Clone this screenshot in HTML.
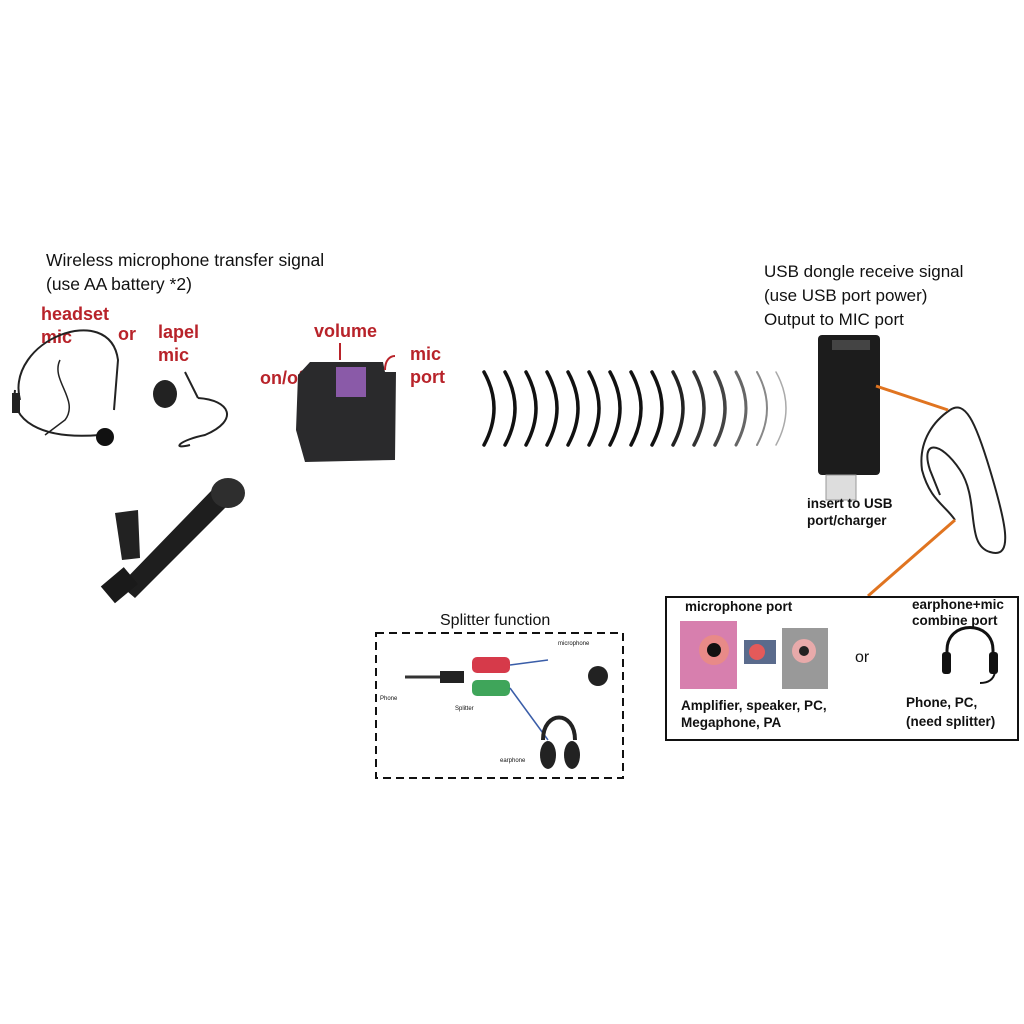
<!DOCTYPE html>
<html><head><meta charset="utf-8"><style>
body{margin:0;background:#fff;width:1024px;height:1024px;overflow:hidden}
svg{display:block}
.t{font-family:"Liberation Sans",sans-serif;fill:#111}
.r{font-family:"Liberation Sans",sans-serif;font-weight:bold;fill:#b8232a;font-size:18px}
.b{font-family:"Liberation Sans",sans-serif;font-weight:bold;fill:#111;font-size:13.5px}
</style></head><body>
<svg width="1024" height="1024" viewBox="0 0 1024 1024">
<text class="t" x="46" y="266" font-size="17.5">Wireless microphone transfer signal</text>
<text class="t" x="46" y="290" font-size="17.5">(use AA battery *2)</text>
<text class="t" x="764" y="277" font-size="17">USB dongle receive signal</text>
<text class="t" x="764" y="301" font-size="17">(use USB port power)</text>
<text class="t" x="764" y="325" font-size="17">Output to MIC port</text>

<text class="r" x="41" y="320">headset</text>
<text class="r" x="41" y="343">mic</text>
<text class="r" x="118" y="340">or</text>
<text class="r" x="158" y="338">lapel</text>
<text class="r" x="158" y="361">mic</text>
<text class="r" x="314" y="337">volume</text>
<text class="r" x="260" y="384">on/off</text>
<text class="r" x="410" y="360">mic</text>
<text class="r" x="410" y="383">port</text>

<!-- headset -->
<path d="M20,400 C5,340 110,300 118,360 L114,410" fill="none" stroke="#222" stroke-width="2"/>
<path d="M15,390 C10,420 40,440 100,435" fill="none" stroke="#222" stroke-width="2"/>
<rect x="12" y="393" width="8" height="20" fill="#222"/>
<circle cx="105" cy="437" r="9" fill="#111"/>
<path d="M60,360 C50,380 80,400 65,420 L45,435" fill="none" stroke="#222" stroke-width="1.5"/>
<!-- lapel -->
<ellipse cx="165" cy="394" rx="12" ry="14" fill="#222"/>
<path d="M185,372 L198,398 M198,398 C230,400 240,420 205,435 C180,440 170,450 190,445" fill="none" stroke="#222" stroke-width="2"/>
<!-- transmitter -->
<path d="M310,362 L383,362 L385,372 L396,372 L395,460 L305,462 L296,430 L298,375 Z" fill="#2a2a2c"/>
<rect x="336" y="367" width="30" height="30" fill="#8a5aa8"/>
<line x1="340" y1="343" x2="340" y2="360" stroke="#b8232a" stroke-width="2"/>
<path d="M385,370 C385,360 390,356 395,356" fill="none" stroke="#b8232a" stroke-width="2"/>
<!-- handheld mic -->
<path d="M120,585 L135,598 L228,505 L212,490 Z" fill="#1e1e1e"/>
<ellipse cx="228" cy="493" rx="17" ry="15" fill="#2e2e2e"/>
<path d="M115,513 L138,510 L140,558 L122,560 Z" fill="#222"/>
<rect x="105" y="574" width="30" height="22" fill="#1a1a1a" transform="rotate(-40 120 586)"/>

<!-- arcs -->
<g fill="none" stroke-width="3.5" stroke-linecap="round">
<path d="M484,372 Q504,408 484,445" stroke="#111"/>
<path d="M505,372 Q525,408 505,445" stroke="#111"/>
<path d="M526,372 Q546,408 526,445" stroke="#111"/>
<path d="M547,372 Q567,408 547,445" stroke="#111"/>
<path d="M568,372 Q588,408 568,445" stroke="#111"/>
<path d="M589,372 Q609,408 589,445" stroke="#111"/>
<path d="M610,372 Q630,408 610,445" stroke="#111"/>
<path d="M631,372 Q651,408 631,445" stroke="#111"/>
<path d="M652,372 Q672,408 652,445" stroke="#111"/>
<path d="M673,372 Q693,408 673,445" stroke="#222"/>
<path d="M694,372 Q714,408 694,445" stroke="#333"/>
<path d="M715,372 Q735,408 715,445" stroke="#444"/>
<path d="M736,372 Q756,408 736,445" stroke="#666" stroke-width="3"/>
<path d="M757,372 Q777,408 757,445" stroke="#888" stroke-width="2"/>
<path d="M776,372 Q796,408 776,445" stroke="#aaa" stroke-width="1.5"/>
</g>

<!-- usb dongle -->
<rect x="818" y="335" width="62" height="140" rx="4" fill="#1c1c1c"/>
<rect x="832" y="340" width="38" height="10" fill="#444"/>
<rect x="826" y="475" width="30" height="25" fill="#ddd" stroke="#999"/>
<text class="b" x="807" y="508" font-size="14">insert to USB</text>
<text class="b" x="807" y="525" font-size="14">port/charger</text>
<!-- cable -->
<path d="M950,410 C965,400 975,420 990,470 C1005,520 1015,560 990,552 C965,545 980,500 960,470 C940,440 920,440 930,470 L940,495" fill="none" stroke="#222" stroke-width="2"/>
<path d="M950,410 C935,420 918,440 922,470 C930,500 945,505 955,520" fill="none" stroke="#222" stroke-width="2"/>
<line x1="876" y1="386" x2="948" y2="410" stroke="#e07420" stroke-width="3"/>
<line x1="955" y1="520" x2="868" y2="596" stroke="#e07420" stroke-width="3"/>

<!-- right box -->
<rect x="666" y="597" width="352" height="143" fill="#fff" stroke="#111" stroke-width="2"/>
<text class="b" x="685" y="611">microphone port</text>
<text class="b" x="912" y="609">earphone+mic</text>
<text class="b" x="912" y="625">combine port</text>
<rect x="680" y="621" width="57" height="68" fill="#d77fae"/>
<circle cx="714" cy="650" r="15" fill="#e88a88"/><circle cx="714" cy="650" r="7" fill="#111"/>
<rect x="744" y="640" width="32" height="24" fill="#5a6b8c"/><circle cx="757" cy="652" r="8" fill="#e35a5a"/>
<rect x="782" y="628" width="46" height="61" fill="#999"/><circle cx="804" cy="651" r="12" fill="#e8aaaa"/><circle cx="804" cy="651" r="5" fill="#222"/>
<text class="t" x="855" y="662" font-size="16">or</text>
<path d="M947,672 L947,650 C947,620 993,620 993,650 L993,672" fill="none" stroke="#111" stroke-width="3"/>
<rect x="942" y="652" width="9" height="22" rx="3" fill="#111"/>
<rect x="989" y="652" width="9" height="22" rx="3" fill="#111"/>
<path d="M995,672 Q993,683 980,683" fill="none" stroke="#111" stroke-width="2"/>
<text class="b" x="681" y="710">Amplifier, speaker, PC,</text>
<text class="b" x="681" y="727">Megaphone, PA</text>
<text class="b" x="906" y="707">Phone, PC,</text>
<text class="b" x="906" y="726">(need splitter)</text>

<!-- splitter -->
<text class="t" x="440" y="625" font-size="16">Splitter function</text>
<rect x="376" y="633" width="247" height="145" fill="none" stroke="#111" stroke-width="2" stroke-dasharray="8,5"/>
<line x1="405" y1="677" x2="460" y2="677" stroke="#333" stroke-width="3"/>
<rect x="440" y="671" width="24" height="12" fill="#222"/>
<rect x="472" y="657" width="38" height="16" rx="5" fill="#d63a4a"/>
<rect x="472" y="680" width="38" height="16" rx="5" fill="#3fa55a"/>
<line x1="510" y1="665" x2="548" y2="660" stroke="#3a5da8" stroke-width="1.5"/>
<line x1="510" y1="688" x2="548" y2="740" stroke="#3a5da8" stroke-width="1.5"/>
<circle cx="598" cy="676" r="10" fill="#222"/>
<path d="M543,740 C543,710 575,710 575,740" fill="none" stroke="#222" stroke-width="4"/>
<ellipse cx="548" cy="755" rx="8" ry="14" fill="#222"/><ellipse cx="572" cy="755" rx="8" ry="14" fill="#222"/>
<text class="t" x="380" y="700" font-size="6">Phone</text>
<text class="t" x="455" y="710" font-size="6">Splitter</text>
<text class="t" x="500" y="762" font-size="6">earphone</text>
<text class="t" x="558" y="645" font-size="6">microphone</text>
</svg>
</body></html>
